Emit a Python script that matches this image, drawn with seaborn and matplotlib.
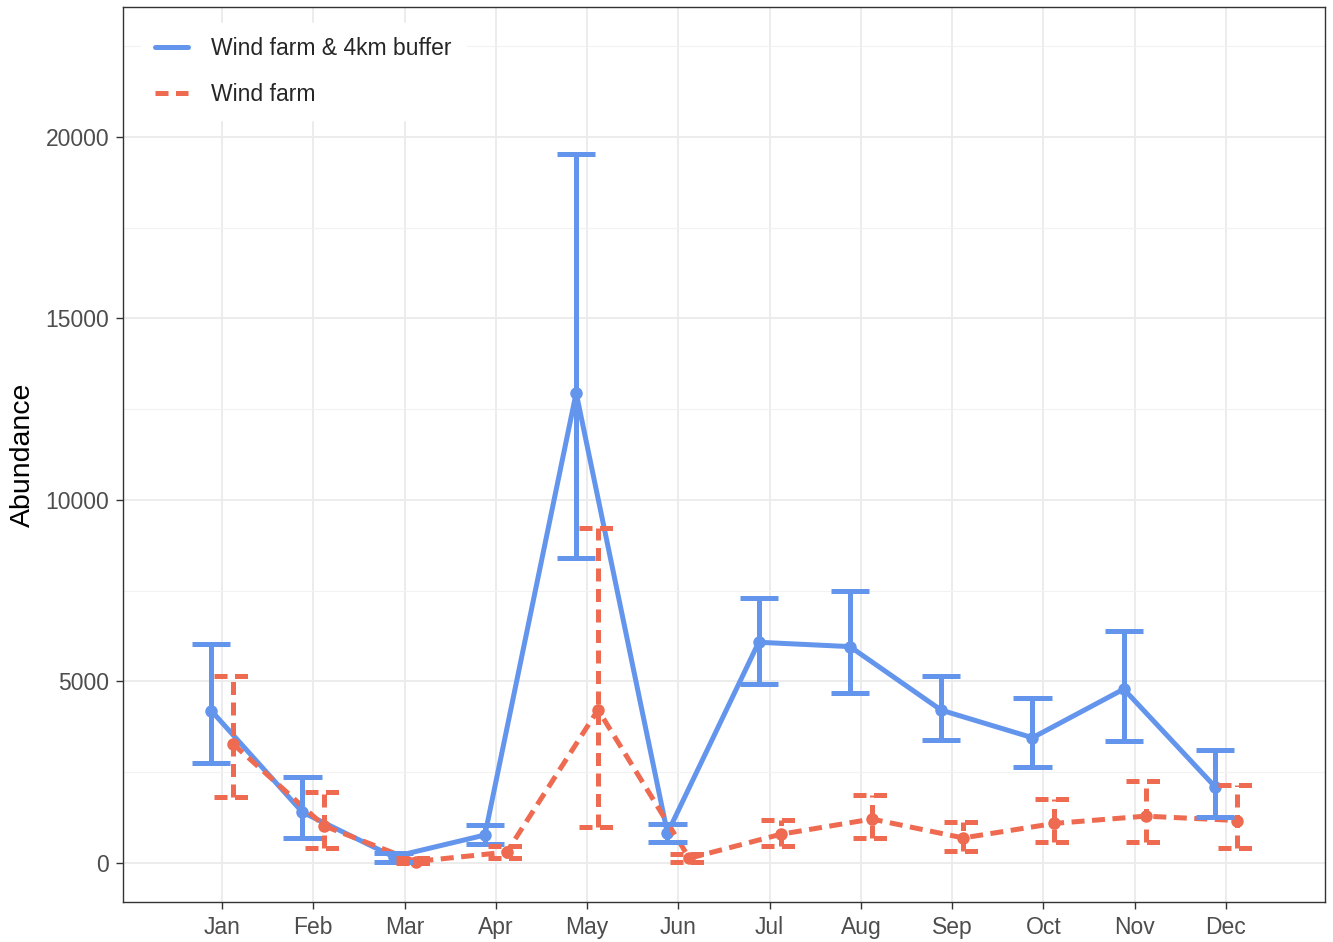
import numpy as np
import pandas as pd
import matplotlib
matplotlib.use("Agg")
import matplotlib.pyplot as plt
import seaborn as sns
from matplotlib.lines import Line2D
from matplotlib.ticker import FixedLocator

months = ["Jan", "Feb", "Mar", "Apr", "May", "Jun", "Jul", "Aug", "Sep", "Oct", "Nov", "Dec"]
series_names = ["Wind farm & 4km buffer", "Wind farm"]

buffer_mean = [4200, 1400, 170, 770, 12950, 820, 6080, 5960, 4210, 3450, 4790, 2100]
buffer_low = [2750, 690, 40, 510, 8410, 590, 4930, 4670, 3390, 2650, 3350, 1270]
buffer_high = [6030, 2380, 280, 1050, 19540, 1070, 7310, 7500, 5140, 4550, 6390, 3100]

farm_mean = [3280, 1020, 40, 300, 4220, 130, 790, 1210, 690, 1090, 1290, 1170]
farm_low = [1830, 410, 10, 130, 1000, 40, 480, 700, 340, 570, 570, 400]
farm_high = [5150, 1960, 150, 470, 9220, 260, 1190, 1880, 1120, 1760, 2270, 2140]

blue = "#6495ED"
red = "#EE6A50"

sns.set_theme(style="whitegrid")
plt.rcParams["font.family"] = ["Liberation Sans", "DejaVu Sans"]

dodge = 0.12
rows = []
for i, m in enumerate(months):
    rows.append(dict(month=m, idx=i, x=i - dodge, series=series_names[0],
                     mean=buffer_mean[i], low=buffer_low[i], high=buffer_high[i]))
    rows.append(dict(month=m, idx=i, x=i + dodge, series=series_names[1],
                     mean=farm_mean[i], low=farm_low[i], high=farm_high[i]))
df = pd.DataFrame(rows)

fig = plt.figure(figsize=(13.33, 9.42), dpi=100)
ax = fig.add_axes([0.0923, 0.0425, 0.9017, 0.9501])

palette = {series_names[0]: blue, series_names[1]: red}
lw = 3.6
dash = (2.6, 1.5)

sns.lineplot(data=df, x="x", y="mean", hue="series", style="series",
             palette=palette, dashes={series_names[0]: "", series_names[1]: dash},
             markers={series_names[0]: "o", series_names[1]: "o"},
             markersize=9, markeredgewidth=0, linewidth=lw, ax=ax, legend=False,
             zorder=3)

capw = 0.21
for name in series_names:
    sub = df[df.series == name]
    color = palette[name]
    ls = "solid" if name == series_names[0] else (0, dash)
    ax.vlines(sub["x"], sub["low"], sub["high"], colors=color, linewidth=lw,
              linestyles=[ls], zorder=3)
    ax.hlines(sub["low"], sub["x"] - capw, sub["x"] + capw, colors=color,
              linewidth=lw, linestyles=[ls], zorder=3)
    ax.hlines(sub["high"], sub["x"] - capw, sub["x"] + capw, colors=color,
              linewidth=lw, linestyles=[ls], zorder=3)

ax.set_xlim(-1.085, 12.085)
ax.set_ylim(-1074, 23580)
ax.xaxis.set_major_locator(FixedLocator(range(len(months))))
ax.set_xticklabels(months)
ax.yaxis.set_major_locator(FixedLocator([0, 5000, 10000, 15000, 20000]))
ax.yaxis.set_minor_locator(FixedLocator([2500, 7500, 12500, 17500, 22500]))

ax.grid(which="major", color="#EBEBEB", linewidth=1.3)
ax.grid(which="minor", axis="y", color="#F2F2F2", linewidth=0.8)
ax.set_axisbelow(True)

for s in ax.spines.values():
    s.set_color("#333333")
    s.set_linewidth(1.0)

ax.tick_params(axis="both", which="major", length=5, width=1.0, color="#333333",
               labelsize=16.5, labelcolor="#4D4D4D", pad=5, left=True, bottom=True)
ax.tick_params(axis="both", which="minor", length=0)

ax.set_xlabel("")
ax.set_ylabel("Abundance", fontsize=20.5, color="black", labelpad=7)

handles = [Line2D([0], [0], color=blue, linewidth=lw),
           Line2D([0], [0], color=red, linewidth=lw, dashes=dash)]
leg = ax.legend(handles, series_names, loc="upper left",
                bbox_to_anchor=(7 / 1202, 1 - 5 / 895), frameon=True,
                fontsize=16.5, handlelength=1.45, handletextpad=1.0,
                labelspacing=1.0, borderaxespad=0.5, borderpad=0.6)
leg.get_frame().set_facecolor("white")
leg.get_frame().set_edgecolor("white")
leg.get_frame().set_alpha(1.0)

fig.savefig("out.png", dpi=100)
